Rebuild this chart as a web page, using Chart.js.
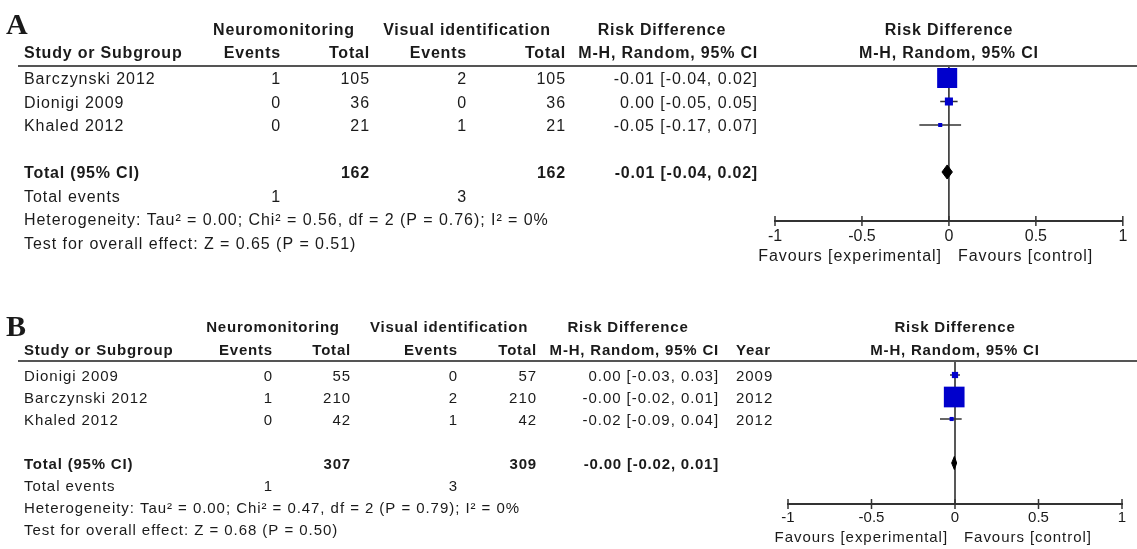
<!DOCTYPE html>
<html>
<head>
<meta charset="utf-8">
<script src="https://cdn.jsdelivr.net/npm/chart.js@4.4.0/dist/chart.umd.min.js"></script>
<style>
  body { margin: 0; background: #fff; }
  #wrap { position: relative; width: 1137px; height: 549px; }
  canvas { position: absolute; left: 0; }
</style>
</head>
<body>
<div id="wrap">
  <canvas id="chartA" width="1137" height="290" style="top:0px"></canvas>
  <canvas id="chartB" width="1137" height="259" style="top:290px"></canvas>
</div>
<script>
// ---- panel A data ----
const studiesA = ["Barczynski 2012", "Dionigi 2009", "Khaled 2012"];
const neuroEventsA = [1, 0, 0];
const neuroTotalA = [105, 36, 21];
const visualEventsA = [2, 0, 1];
const visualTotalA = [105, 36, 21];
const rdA = [-0.01, 0.00, -0.05];
const lowA = [-0.04, -0.05, -0.17];
const highA = [0.02, 0.05, 0.07];
const weightA = [83, 13.5, 3.5];
const pooledA = [-0.01, -0.04, 0.02];      // estimate, low, high
const hetA = [0.00, 0.56, 2, 0.76, 0];      // tau2, chi2, df, P, I2
const overallA = [0.65, 0.51];              // Z, P

// ---- panel B data ----
const studiesB = ["Dionigi 2009", "Barczynski 2012", "Khaled 2012"];
const yearsB = [2009, 2012, 2012];
const neuroEventsB = [0, 1, 0];
const neuroTotalB = [55, 210, 42];
const visualEventsB = [0, 2, 1];
const visualTotalB = [57, 210, 42];
const rdB = [0.00, -0.0048, -0.02];
const lowB = [-0.03, -0.02, -0.09];
const highB = [0.03, 0.01, 0.04];
const weightB = [8, 88.5, 3.5];
const pooledB = [-0.004, -0.02, 0.01];
const hetB = [0.00, 0.47, 2, 0.79, 0];
const overallB = [0.68, 0.50];

const xTicks = [-1, -0.5, 0, 0.5, 1];
const favoursLabels = ["Favours [experimental]", "Favours [control]"];

const sum = a => a.reduce((s, v) => s + v, 0);
const f2 = v => v.toFixed(2);
const ciText = (e, l, h) => f2(e) + " [" + f2(l) + ", " + f2(h) + "]";
const FONT = '"Liberation Sans", Arial, sans-serif';
const INK = "#1a1a1a";

function makePanel(id, d, g) {
  const yMin = (g.headerLineY - g.rowY0) / g.rowStep;
  const yMax = (g.axisY - g.rowY0) / g.rowStep;
  const totalRow = 4;
  const dh = 0.3;

  const datasets = [];
  // study boxes
  datasets.push({
    data: d.rd.map((v, i) => ({ x: v, y: i })),
    pointStyle: "rect",
    pointRadius: d.weight.map(w => 2.2 * Math.sqrt(w) / Math.SQRT2),
    pointBackgroundColor: "#0000cc",
    pointBorderWidth: 0,
    showLine: false
  });
  // confidence intervals
  d.rd.forEach((v, i) => {
    datasets.push({
      data: [{ x: d.low[i], y: i }, { x: d.high[i], y: i }],
      showLine: true, borderColor: "#333", borderWidth: 1.5, pointRadius: 0
    });
  });
  // pooled diamond
  const p = d.pooled;
  datasets.push({
    data: [
      { x: p[1], y: totalRow }, { x: p[0], y: totalRow - dh },
      { x: p[2], y: totalRow }, { x: p[0], y: totalRow + dh },
      { x: p[1], y: totalRow }
    ],
    showLine: true, borderColor: "#000", borderWidth: 1,
    backgroundColor: "#000", fill: "shape", pointRadius: 0, tension: 0
  });
  // line of no effect
  datasets.push({
    data: [{ x: 0, y: yMin }, { x: 0, y: yMax }],
    showLine: true, borderColor: "#222", borderWidth: 1.5, pointRadius: 0
  });

  const tablePlugin = {
    id: "table" + id,
    afterDraw(chart) {
      const ctx = chart.ctx;
      const off = g.top;
      const xs = chart.scales.x;
      ctx.save();
      ctx.fillStyle = INK;
      ctx.textBaseline = "middle";
      const txt = (s, x, y, align, bold) => {
        ctx.font = (bold ? "bold " : "") + g.fs + "px " + FONT;
        ctx.letterSpacing = bold ? "0.8px" : "0.95px";
        ctx.textAlign = align;
        ctx.fillText(String(s), x, y - off);
      };
      // panel letter
      ctx.letterSpacing = "0px";
      ctx.textBaseline = "alphabetic";
      ctx.textAlign = "left";
      ctx.font = "bold 30px 'Liberation Serif', 'Times New Roman', serif";
      ctx.fillText(d.letter, 6, g.letterY - off);
      ctx.textBaseline = "middle";

      // headers
      txt("Neuromonitoring", g.neuroC, g.h1, "center", true);
      txt("Visual identification", g.visC, g.h1, "center", true);
      txt("Risk Difference", g.rdC, g.h1, "center", true);
      const zero = xs.getPixelForValue(0);
      const mid = (xs.left + xs.right) / 2;
      txt("Risk Difference", mid, g.h1, "center", true);
      txt("Study or Subgroup", g.studyX, g.h2, "left", true);
      txt("Events", g.ev1R, g.h2, "right", true);
      txt("Total", g.tot1R, g.h2, "right", true);
      txt("Events", g.ev2R, g.h2, "right", true);
      txt("Total", g.tot2R, g.h2, "right", true);
      txt("M-H, Random, 95% CI", g.ciR, g.h2, "right", true);
      if (d.years) txt("Year", g.yearL, g.h2, "left", true);
      txt("M-H, Random, 95% CI", mid, g.h2, "center", true);

      // rule under header
      ctx.strokeStyle = "#555";
      ctx.lineWidth = 2;
      ctx.beginPath();
      ctx.moveTo(18, g.headerLineY - off);
      ctx.lineTo(1137, g.headerLineY - off);
      ctx.stroke();

      const rowY = k => g.rowY0 + g.rowStep * k + 2;
      d.studies.forEach((s, i) => {
        const y = rowY(i);
        txt(s, g.studyX, y, "left");
        txt(d.ne[i], g.ev1R, y, "right");
        txt(d.nt[i], g.tot1R, y, "right");
        txt(d.ve[i], g.ev2R, y, "right");
        txt(d.vt[i], g.tot2R, y, "right");
        txt(ciText(d.rd[i], d.low[i], d.high[i]), g.ciR, y, "right");
        if (d.years) txt(d.years[i], g.yearL, y, "left");
      });
      const yt = rowY(totalRow);
      txt("Total (95% CI)", g.studyX, yt, "left", true);
      txt(sum(d.nt), g.tot1R, yt, "right", true);
      txt(sum(d.vt), g.tot2R, yt, "right", true);
      txt(ciText(p[0], p[1], p[2]), g.ciR, yt, "right", true);
      txt("Total events", g.studyX, rowY(5), "left");
      txt(sum(d.ne), g.ev1R, rowY(5), "right");
      txt(sum(d.ve), g.ev2R, rowY(5), "right");
      const h = d.het;
      txt("Heterogeneity: Tau\u00b2 = " + f2(h[0]) + "; Chi\u00b2 = " + f2(h[1]) + ", df = " + h[2] +
          " (P = " + f2(h[3]) + "); I\u00b2 = " + h[4] + "%", g.studyX, rowY(6), "left");
      txt("Test for overall effect: Z = " + f2(d.overall[0]) + " (P = " + f2(d.overall[1]) + ")",
          g.studyX, rowY(7), "left");

      // axis tick marks
      ctx.strokeStyle = "#333";
      ctx.lineWidth = 1.5;
      const ay = xs.top;
      xs.ticks.forEach(t => {
        const px = xs.getPixelForValue(t.value);
        ctx.beginPath();
        ctx.moveTo(px, ay - 5);
        ctx.lineTo(px, ay + 5);
        ctx.stroke();
      });
      // favours labels
      txt(favoursLabels[0], zero - 7, g.favY, "right");
      txt(favoursLabels[1], zero + 9, g.favY, "left");
      ctx.restore();
    }
  };

  const axisH = 40;
  return new Chart(document.getElementById(id), {
    type: "scatter",
    data: { datasets },
    options: {
      responsive: false,
      animation: false,
      events: [],
      layout: {
        padding: {
          left: g.left,
          right: 1137 - g.right,
          top: g.headerLineY - g.top,
          bottom: g.height - (g.axisY - g.top) - axisH
        }
      },
      plugins: { legend: { display: false }, tooltip: { enabled: false } },
      scales: {
        x: {
          type: "linear", min: -1, max: 1,
          afterBuildTicks: s => { s.ticks = xTicks.map(v => ({ value: v })); },
          afterFit: s => { s.height = axisH; },
          grid: { display: false, drawTicks: false },
          border: { display: true, color: "#333", width: 2 },
          ticks: {
            color: INK, padding: g.tickPad, maxRotation: 0, autoSkip: false,
            font: { family: FONT, size: g.fs },
            callback: v => String(v)
          }
        },
        y: {
          type: "linear", min: yMin, max: yMax, reverse: true, display: false
        }
      }
    },
    plugins: [tablePlugin]
  });
}

makePanel("chartA", {
  letter: "A", studies: studiesA, ne: neuroEventsA, nt: neuroTotalA, ve: visualEventsA, vt: visualTotalA,
  rd: rdA, low: lowA, high: highA, weight: weightA, pooled: pooledA, het: hetA, overall: overallA
}, {
  top: 0, height: 290, fs: 16, letterY: 34,
  rowY0: 78, rowStep: 23.5, headerLineY: 66, axisY: 221, left: 775, right: 1125,
  studyX: 24, ev1R: 281, tot1R: 370, ev2R: 467, tot2R: 566, ciR: 758,
  neuroC: 284, visC: 467, rdC: 662, h1: 31, h2: 54, favY: 257, tickPad: 6
});

makePanel("chartB", {
  letter: "B", studies: studiesB, years: yearsB, ne: neuroEventsB, nt: neuroTotalB, ve: visualEventsB, vt: visualTotalB,
  rd: rdB, low: lowB, high: highB, weight: weightB, pooled: pooledB, het: hetB, overall: overallB
}, {
  top: 290, height: 259, fs: 15, letterY: 336,
  rowY0: 375, rowStep: 22, headerLineY: 361, axisY: 504, left: 788, right: 1122,
  studyX: 24, ev1R: 273, tot1R: 351, ev2R: 458, tot2R: 537, ciR: 719, yearL: 736,
  neuroC: 273, visC: 449, rdC: 628, h1: 328, h2: 351, favY: 538, tickPad: 5
});
</script>
</body>
</html>
